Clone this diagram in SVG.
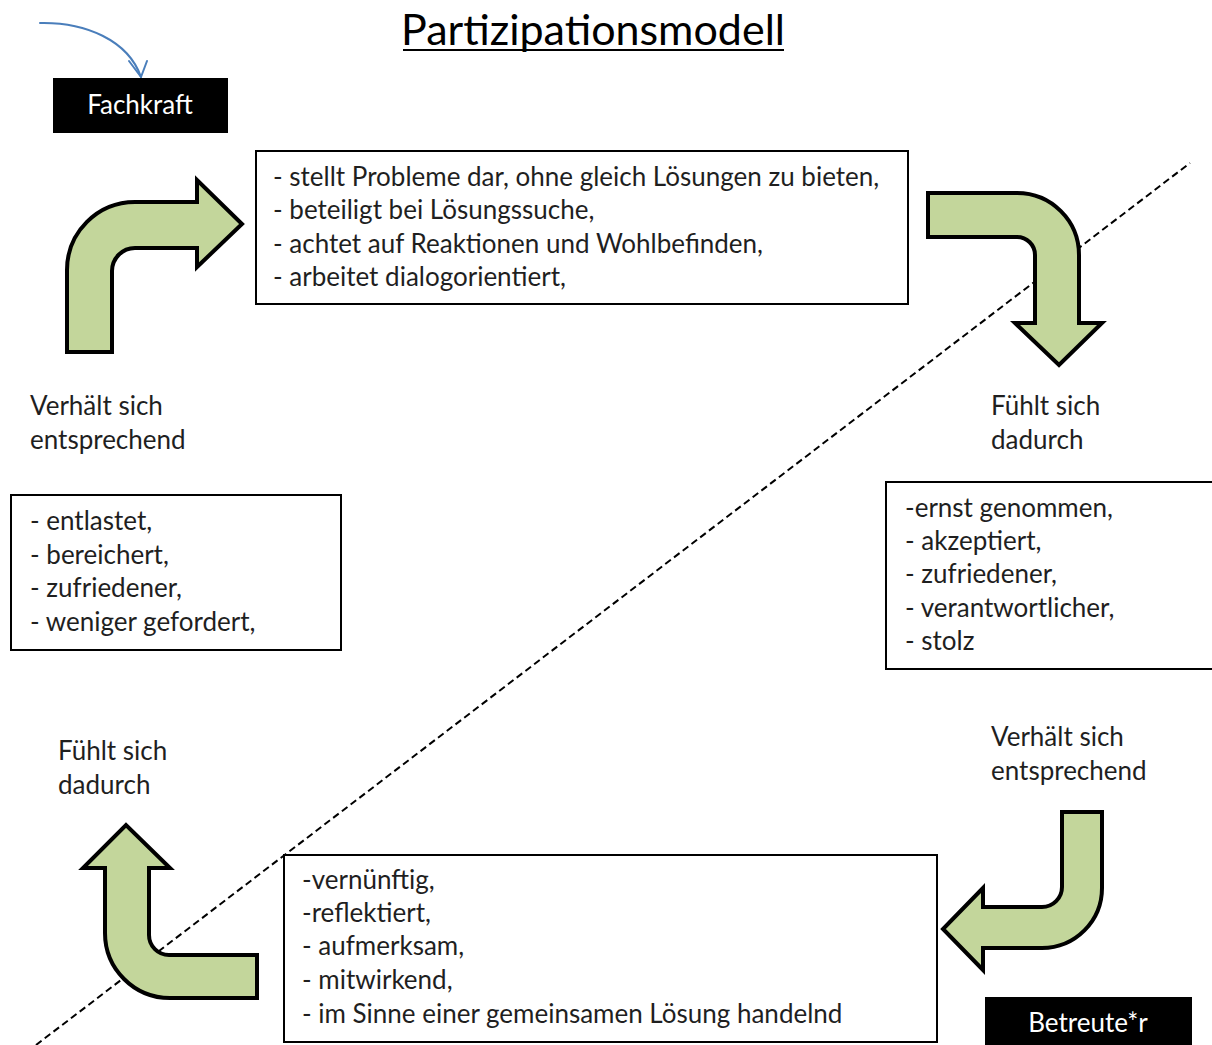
<svg xmlns="http://www.w3.org/2000/svg" width="1212" height="1045" viewBox="0 0 1212 1045">
  <defs>
    <style>
      .txt { font-family: Lato, "Liberation Sans", sans-serif; font-size: 26px; fill: #1f1f1f; }
      .tag { font-family: Lato, "Liberation Sans", sans-serif; font-size: 26px; fill: #ffffff; text-anchor: middle; }
      .title { font-family: Lato, "Liberation Sans", sans-serif; font-size: 43px; fill: #000000; text-anchor: middle; }
      .box { fill: #ffffff; stroke: #000000; stroke-width: 2; }
      .tagbox { fill: #000000; }
      .bend { fill: #c3d69b; stroke: #000000; stroke-width: 4; stroke-linejoin: miter; }
      .divider { fill: none; stroke: #000000; stroke-width: 2; stroke-dasharray: 7 4; }
      .pointer { fill: none; stroke: #4a7ebb; stroke-width: 2; stroke-linecap: round; stroke-linejoin: round; }
    </style>
  </defs>

  <rect width="1212" height="1045" fill="#ffffff"/>

  <!-- diagonal divider between the two roles -->
  <line class="divider" x1="36" y1="1045" x2="1190" y2="163"/>

  <!-- title -->
  <g id="title">
    <text class="title" x="593" y="45">Partizipationsmodell</text>
    <line x1="403" y1="50" x2="784" y2="50" stroke="#000" stroke-width="2"/>
  </g>

  <!-- connectors: curved arrows -->
  <g id="connectors">
    <path class="pointer" d="M 40 23 C 85 22 128 40 141 77"/>
    <path class="pointer" d="M 129 61 L 141 77 L 147 61"/>
    <!-- top left: up then right -->
    <path class="bend" d="M 67 352 L 67 270 A 68 68 0 0 1 135 202 L 197 202 L 197 180 L 242 224 L 197 267 L 197 248 L 135 248 A 23 23 0 0 0 112 271 L 112 352 Z"/>
    <!-- top right: right then down -->
    <path class="bend" d="M 928 193 L 1017 193 A 62 62 0 0 1 1079 255 L 1079 323 L 1102 323 L 1059 365 L 1015 323 L 1035 323 L 1035 255 A 18 18 0 0 0 1017 237 L 928 237 Z"/>
    <!-- bottom right: down then left -->
    <path class="bend" d="M 1102 812 L 1102 888 A 60 60 0 0 1 1042 948 L 983 948 L 983 970 L 943 929 L 983 888 L 983 907 L 1042 907 A 20 20 0 0 0 1062 887 L 1062 812 Z"/>
    <!-- bottom left: left then up -->
    <path class="bend" d="M 257 998 L 170 998 A 65 65 0 0 1 105 933 L 105 868 L 83 868 L 126 825 L 170 868 L 149 868 L 149 935 A 20 20 0 0 0 169 955 L 257 955 Z"/>
  </g>

  <!-- role tags -->
  <g id="fachkraft">
    <rect class="tagbox" x="53" y="78" width="175" height="55"/>
    <text class="tag" x="140" y="114">Fachkraft</text>
  </g>
  <g id="betreute">
    <rect class="tagbox" x="985" y="997" width="207" height="50"/>
    <text class="tag" x="1088" y="1032">Betreute*r</text>
  </g>

  <!-- professional behaviour -->
  <g id="box-fachkraft-handeln">
    <rect class="box" x="256" y="151" width="652" height="153"/>
    <text class="txt" x="273" y="186">- stellt Probleme dar, ohne gleich Lösungen zu bieten,</text>
    <text class="txt" x="273" y="219">- beteiligt bei Lösungssuche,</text>
    <text class="txt" x="273" y="253">- achtet auf Reaktionen und Wohlbefinden,</text>
    <text class="txt" x="273" y="286">- arbeitet dialogorientiert,</text>
  </g>

  <g id="label-fuehlt-rechts">
    <text class="txt" x="991" y="415">Fühlt sich</text>
    <text class="txt" x="991" y="449">dadurch</text>
  </g>

  <g id="box-betreute-gefuehl">
    <rect class="box" x="886" y="482" width="330" height="187"/>
    <text class="txt" x="905" y="517">-ernst genommen,</text>
    <text class="txt" x="905" y="550">- akzeptiert,</text>
    <text class="txt" x="905" y="583">- zufriedener,</text>
    <text class="txt" x="905" y="617">- verantwortlicher,</text>
    <text class="txt" x="905" y="650">- stolz</text>
  </g>

  <g id="label-verhaelt-rechts">
    <text class="txt" x="991" y="746">Verhält sich</text>
    <text class="txt" x="991" y="780">entsprechend</text>
  </g>

  <g id="box-betreute-handeln">
    <rect class="box" x="284" y="855" width="653" height="187"/>
    <text class="txt" x="302" y="889">-vernünftig,</text>
    <text class="txt" x="302" y="922">-reflektiert,</text>
    <text class="txt" x="302" y="955">- aufmerksam,</text>
    <text class="txt" x="302" y="989">- mitwirkend,</text>
    <text class="txt" x="302" y="1023">- im Sinne einer gemeinsamen Lösung handelnd</text>
  </g>

  <g id="label-fuehlt-links">
    <text class="txt" x="58" y="760">Fühlt sich</text>
    <text class="txt" x="58" y="794">dadurch</text>
  </g>

  <g id="box-fachkraft-gefuehl">
    <rect class="box" x="11" y="495" width="330" height="155"/>
    <text class="txt" x="30" y="530">- entlastet,</text>
    <text class="txt" x="30" y="564">- bereichert,</text>
    <text class="txt" x="30" y="597">- zufriedener,</text>
    <text class="txt" x="30" y="631">- weniger gefordert,</text>
  </g>

  <g id="label-verhaelt-links">
    <text class="txt" x="30" y="415">Verhält sich</text>
    <text class="txt" x="30" y="449">entsprechend</text>
  </g>
</svg>
